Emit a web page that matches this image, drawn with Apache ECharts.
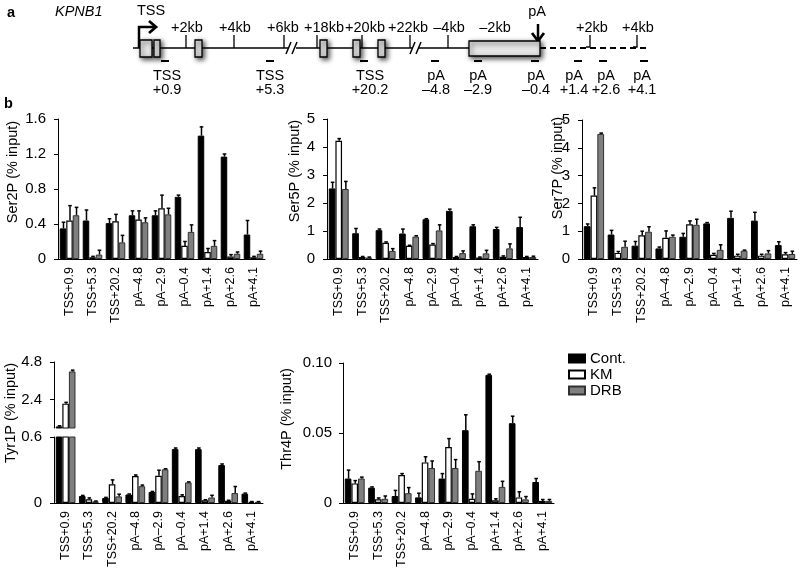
<!DOCTYPE html>
<html>
<head>
<meta charset="utf-8">
<script src="https://cdn.jsdelivr.net/npm/echarts@6/dist/echarts.min.js"></script>
<style>html,body{margin:0;padding:0;background:#fff;}#c{width:800px;height:579px;}</style>
</head>
<body>
<div id="c"></div>
<script>
// ---------------- DATA ----------------
const categories = ['TSS+0.9','TSS+5.3','TSS+20.2','pA–4.8','pA–2.9','pA–0.4','pA+1.4','pA+2.6','pA+4.1'];
const seriesNames = ['Cont.','KM','DRB'];

const ser2P_cont = [0.35,0.44,0.41,0.50,0.50,0.71,1.41,1.17,0.28];
const ser2P_contErr = [0.07,0.12,0.05,0.05,0.05,0.02,0.10,0.03,0.16];
const ser2P_km = [0.44,0.02,0.43,0.45,0.58,0.15,0.08,0.03,0.02];
const ser2P_kmErr = [0.17,0.01,0.08,0.10,0.15,0.05,0.04,0.02,0.01];
const ser2P_drb = [0.50,0.05,0.19,0.42,0.51,0.31,0.15,0.06,0.06];
const ser2P_drbErr = [0.09,0.05,0.08,0.05,0.07,0.08,0.06,0.02,0.03];

const ser5P_cont = [2.52,0.92,1.03,0.91,1.42,1.72,1.17,1.07,1.14];
const ser5P_contErr = [0.22,0.17,0.04,0.16,0.02,0.06,0.05,0.06,0.35];
const ser5P_km = [4.22,0.07,0.58,0.47,0.52,0.07,0.05,0.08,0.07];
const ser5P_kmErr = [0.08,0.02,0.03,0.02,0.03,0.02,0.02,0.03,0.02];
const ser5P_drb = [2.50,0.05,0.29,0.80,1.02,0.21,0.20,0.38,0.07];
const ser5P_drbErr = [0.27,0.02,0.08,0.03,0.20,0.08,0.11,0.16,0.03];

const ser7P_cont = [1.18,0.88,0.48,0.38,0.80,1.28,1.48,1.38,0.50];
const ser7P_contErr = [0.08,0.15,0.15,0.05,0.12,0.03,0.24,0.30,0.12];
const ser7P_km = [2.28,0.22,0.85,0.76,1.25,0.15,0.12,0.12,0.17];
const ser7P_kmErr = [0.28,0.05,0.15,0.25,0.12,0.05,0.05,0.05,0.06];
const ser7P_drb = [4.50,0.44,0.98,0.80,1.23,0.33,0.30,0.20,0.18];
const ser7P_drbErr = [0.03,0.20,0.18,0.06,0.20,0.18,0.02,0.10,0.10];

const tyr1P_cont = [0.70,0.064,0.046,0.077,0.10,0.49,0.49,0.345,0.085];
const tyr1P_contErr = [0.04,0.005,0.005,0.005,0.005,0.01,0.01,0.01,0.005];
const tyr1P_km = [2.15,0.034,0.17,0.245,0.248,0.064,0.025,0.02,0.01];
const tyr1P_kmErr = [0.08,0.012,0.04,0.01,0.05,0.01,0.005,0.005,0.003];
const tyr1P_drb = [4.20,0.015,0.06,0.153,0.306,0.187,0.05,0.09,0.01];
const tyr1P_drbErr = [0.08,0.003,0.02,0.01,0.005,0.005,0.02,0.06,0.003];

const thr4P_cont = [0.0175,0.011,0.005,0.004,0.0175,0.052,0.0915,0.057,0.015];
const thr4P_contErr = [0.006,0.0005,0.004,0.003,0.0035,0.011,0.0005,0.005,0.0025];
const thr4P_km = [0.014,0.0026,0.020,0.029,0.040,0.003,0.002,0.004,0.0015];
const thr4P_kmErr = [0.002,0.001,0.001,0.004,0.006,0.0035,0.001,0.004,0.001];
const thr4P_drb = [0.0175,0.003,0.007,0.025,0.025,0.023,0.0115,0.0026,0.0015];
const thr4P_drbErr = [0.001,0.002,0.004,0.005,0.006,0.0065,0.004,0.002,0.001];

const yTitles = ['Ser2P (% input)','Ser5P (% input)','Ser7P (% input)','Tyr1P (% input)','Thr4P (% input)'];
const tyrUpperTicks = [2.4, 4.8];

// schematic labels
const kbLabels = ['+2kb','+4kb','+6kb','+18kb','+20kb','+22kb','–4kb','–2kb','+2kb','+4kb'];
const probeLine1 = ['TSS','TSS','TSS','pA','pA','pA','pA','pA','pA'];
const probeLine2 = ['+0.9','+5.3','+20.2','–4.8','–2.9','–0.4','+1.4','+2.6','+4.1'];

// ---------------- STYLE / LAYOUT ----------------
const FONT = "'Liberation Sans', Arial, Helvetica, sans-serif";
const barStyles = [
  {color:'#000000', borderColor:'#000000', borderWidth:1},
  {color:'#ffffff', borderColor:'#000000', borderWidth:1.2},
  {color:'#7f7f7f', borderColor:'#303030', borderWidth:1}
];
const CAT_GAP = 0.15;

const grids = [
  {left:58, top:119, width:207, height:140},   // Ser2P
  {left:327, top:119, width:211, height:140},  // Ser5P
  {left:582, top:120, width:215, height:139},  // Ser7P
  {left:54, top:362, width:209, height:66},    // Tyr1P upper
  {left:54, top:437, width:209, height:66},    // Tyr1P lower
  {left:343, top:363, width:211, height:140}   // Thr4P
];

const panels = [
  {grid:0, vals:[ser2P_cont,ser2P_km,ser2P_drb], errs:[ser2P_contErr,ser2P_kmErr,ser2P_drbErr], lo:0, hi:1.6},
  {grid:1, vals:[ser5P_cont,ser5P_km,ser5P_drb], errs:[ser5P_contErr,ser5P_kmErr,ser5P_drbErr], lo:0, hi:5},
  {grid:2, vals:[ser7P_cont,ser7P_km,ser7P_drb], errs:[ser7P_contErr,ser7P_kmErr,ser7P_drbErr], lo:0, hi:5},
  {grid:3, vals:[tyr1P_cont,tyr1P_km,tyr1P_drb], errs:[tyr1P_contErr,tyr1P_kmErr,tyr1P_drbErr], lo:0.6, hi:4.8, upper:true},
  {grid:4, vals:[tyr1P_cont,tyr1P_km,tyr1P_drb], errs:[tyr1P_contErr,tyr1P_kmErr,tyr1P_drbErr], lo:0, hi:0.6},
  {grid:5, vals:[thr4P_cont,thr4P_km,thr4P_drb], errs:[thr4P_contErr,thr4P_kmErr,thr4P_drbErr], lo:0, hi:0.1}
];

const xAxes = grids.map((g,i)=>({
  type:'category', gridIndex:i, data:categories, show: i!==3,
  axisTick:{show:false},
  axisLine:{show:true, lineStyle:{color:'#000', width:1}},
  axisLabel:{rotate:90, interval:0, margin:8, fontSize:12.5, color:'#000', fontFamily:FONT}
}));

const baseY = {
  type:'value', splitLine:{show:false},
  axisLine:{show:true, lineStyle:{color:'#000', width:1}},
  axisTick:{show:true, length:4, lineStyle:{color:'#000'}},
  axisLabel:{fontSize:15, color:'#000', fontFamily:FONT, margin:12}
};
const yAxes = [
  Object.assign({}, baseY, {gridIndex:0, min:0, max:1.6, interval:0.4}),
  Object.assign({}, baseY, {gridIndex:1, min:0, max:5, interval:1}),
  Object.assign({}, baseY, {gridIndex:2, min:0, max:5, interval:1}),
  Object.assign({}, baseY, {gridIndex:3, min:0.6, max:4.8,
    axisTick:{show:true, length:4, lineStyle:{color:'#000'}, customValues:tyrUpperTicks},
    axisLabel:{fontSize:15, color:'#000', fontFamily:FONT, margin:12, customValues:tyrUpperTicks}}),
  Object.assign({}, baseY, {gridIndex:4, min:0, max:0.6, interval:0.6}),
  Object.assign({}, baseY, {gridIndex:5, min:0, max:0.1, interval:0.05,
    axisLabel:{fontSize:15, color:'#000', fontFamily:FONT, margin:11,
      formatter:v=> v===0 ? '0' : v.toFixed(2)}})
];

const series = [];
panels.forEach(p=>{
  p.vals.forEach((arr,s)=>{
    series.push({
      type:'bar', name:seriesNames[s], xAxisIndex:p.grid, yAxisIndex:p.grid,
      data: p.upper ? arr.map(v=> v>=p.lo ? v : null) : arr,
      barGap:'0%', barCategoryGap:(CAT_GAP*100)+'%', clip:true,
      itemStyle:barStyles[s], silent:true, animation:false, z:2
    });
  });
  p.vals.forEach((arr,s)=>{
    const errs = p.errs[s];
    series.push({
      type:'custom', name:'err', xAxisIndex:p.grid, yAxisIndex:p.grid, clip:true, silent:true, z:5,
      animation:false,
      data: arr.map((v,i)=>[i,v,errs[i]]).filter(d=> d[1]>=p.lo && d[1]<=p.hi),
      renderItem:function(params, api){
        const i = api.value(0), v = api.value(1), e = api.value(2);
        const band = api.size([1,0])[0];
        const bw = band*(1-CAT_GAP)/3;
        const p0 = api.coord([i, v]);
        const p1 = api.coord([i, v+e]);
        const cx = p0[0] + (s-1)*bw + 0.5;
        return {type:'group', children:[
          {type:'line', shape:{x1:cx,y1:p0[1],x2:cx,y2:p1[1]}, style:{stroke:'#000', lineWidth:1.5}},
          {type:'line', shape:{x1:cx-1.8,y1:p1[1],x2:cx+1.8,y2:p1[1]}, style:{stroke:'#000', lineWidth:1.5}}
        ]};
      }
    });
  });
});

// ---------------- GRAPHIC (schematic + titles) ----------------
function T(x,y,s,o){
  const st = Object.assign({text:s, fill:'#000', fontSize:14.5, fontFamily:FONT,
    textAlign:'center', textVerticalAlign:'middle', align:'center', verticalAlign:'middle'}, o||{});
  return {type:'text', x:x, y:y, style:st, silent:true};
}
function L(x1,y1,x2,y2,w,dash){
  return {type:'line', shape:{x1,y1,x2,y2}, style:{stroke:'#000', lineWidth:w||1.5, lineDash:dash||null}, silent:true};
}
function PL(pts,w){
  return {type:'polyline', shape:{points:pts}, style:{stroke:'#000', fill:null, lineWidth:w||1.5, lineJoin:'miter'}, silent:true};
}
function BOX(x,y,w,h){
  return {type:'rect', shape:{x,y,width:w,height:h}, style:{fill:'#e6e6e6', stroke:'#000', lineWidth:1.3,
    shadowBlur:5, shadowColor:'rgba(0,0,0,0.7)', shadowOffsetX:2, shadowOffsetY:2}, silent:true, z:10};
}
const LY = 48;
const g = [];
g.push(T(7,13,'a',{fontWeight:'bold', textAlign:'left', align:'left'}));
g.push(T(55,12,'KPNB1',{fontStyle:'italic', textAlign:'left', align:'left'}));
g.push(T(4,104,'b',{fontWeight:'bold', textAlign:'left', align:'left'}));
// backbone
g.push(L(133,LY,289,LY));
g.push(L(296,LY,412,LY));
g.push(L(419,LY,469,LY));
g.push(L(540,LY,649,LY,2,[6,4]));
// breaks
g.push(L(286,54,291,42)); g.push(L(292,54,297,42));
g.push(L(410,54,415,42)); g.push(L(416,54,421,42));
// exons
[[140,12],[154,6],[195,7],[320,7],[353,7],[378,7]].forEach(e=>g.push(BOX(e[0],40,e[1],17)));
g.push(BOX(469,41,71,15));
// kb ticks
[186,234,284,317,362,410,448].forEach(x=>g.push(L(x,35,x,LY,1.3)));
g.push(PL([[586,47],[590,47],[590,35]],1.3));
g.push(PL([[633,47],[637,47],[637,35]],1.3));
const kbX = [187,235,283,324,365,408,449,495,592,638];
kbLabels.forEach((s,i)=>g.push(T(kbX[i],28,s)));
// TSS arrow
g.push(PL([[139,LY],[139,27],[155,27]],2.5));
g.push(PL([[149,21],[156,27],[149,33]],2.8));
g.push(T(151,11,'TSS'));
// pA arrow
g.push(L(538,24,538,40,2.5));
g.push(PL([[532,33],[538,41],[544,33]],2.8));
g.push(T(537,12,'pA'));
// probes
const probeDash = [165,270,364,435,478,535,578,603,644];
const probeLab = [167,270,370,436,478,536,574,606,642];
probeDash.forEach(x=>g.push(L(x-4,61,x+4,61,2)));
probeLine1.forEach((s,i)=>{ g.push(T(probeLab[i],76,s)); g.push(T(probeLab[i],90,probeLine2[i])); });
// y-axis titles
const titlePos = [[13,172],[295,171],[558,168],[11,413],[287,419]];
yTitles.forEach((s,i)=>{
  const t = T(titlePos[i][0], titlePos[i][1], s, {fontSize:14.5});
  t.rotation = Math.PI/2;
  g.push(t);
});

const option = {
  animation:false,
  backgroundColor:'#fff',
  textStyle:{fontFamily:FONT},
  grid: grids,
  xAxis: xAxes,
  yAxis: yAxes,
  legend:{
    data:seriesNames, orient:'vertical', left:568, top:351, padding:0,
    itemWidth:16, itemHeight:8, itemGap:1, icon:'rect',
    textStyle:{fontSize:15, color:'#000', fontFamily:FONT}, selectedMode:false
  },
  series: series,
  graphic: g
};
const chart = echarts.init(document.getElementById('c'), null, {renderer:'canvas'});
chart.setOption(option);
</script>
</body>
</html>
